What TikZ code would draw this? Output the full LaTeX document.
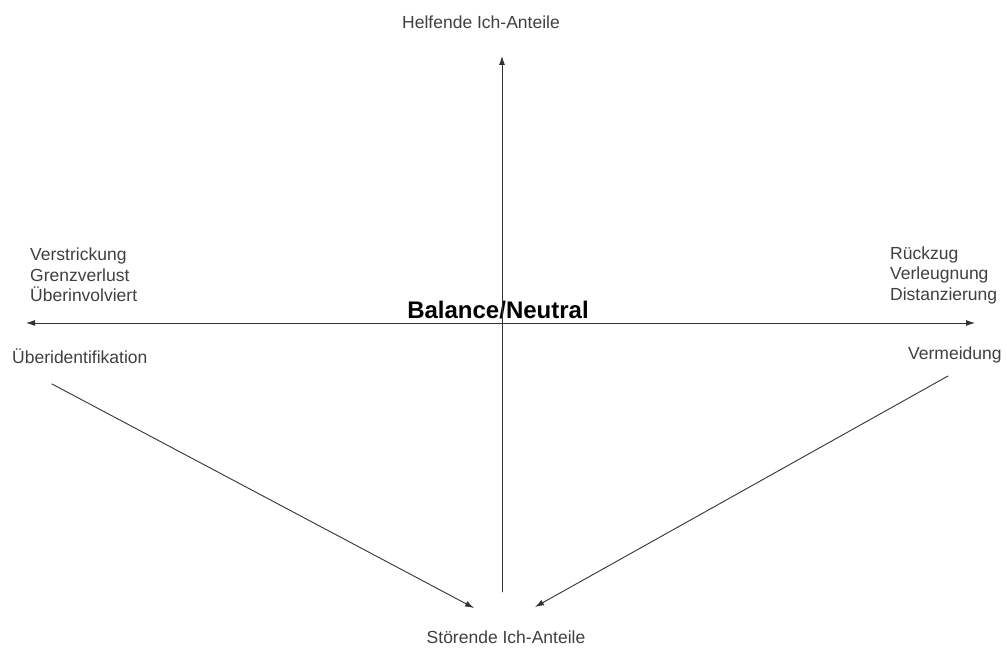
\documentclass[tikz,border=0pt]{standalone}
\usepackage{fontspec}
\setmainfont{Liberation Sans}
\usetikzlibrary{arrows.meta}

\begin{document}
\begin{tikzpicture}[x=1pt,y=1pt,line cap=round,line join=round,
  axis/.style={draw=black!80,line width=.9pt},
  tip/.style={-{Latex[length=9pt,width=6pt]}},
  lbl/.style={text=black!75,inner sep=0pt,font=\fontsize{17.5}{20.5}\selectfont},
  big/.style={inner sep=0pt,font=\bfseries\fontsize{24}{26}\selectfont}]

\useasboundingbox (0,0) rectangle (1007,652);

% Pole labels of the vertical axis.
\node[lbl] (helfend) at (481,630) {Helfende Ich-Anteile};
\node[lbl] (stoerend) at (506,15) {Störende Ich-Anteile};
\node[big] (balance) at (498,342) {Balance/Neutral};

% Both ends of the horizontal axis.
\node[lbl,anchor=west,align=left] (nah) at (30,377)
  {Verstrickung\\Grenzverlust\\Überinvolviert};
\node[lbl,anchor=west] (ueberid) at (12,296) {Überidentifikation};
\node[lbl,anchor=west,align=left] (fern) at (890,377)
  {Rückzug\\Verleugnung\\Distanzierung};
\node[lbl,anchor=west] (vermeid) at (908,297) {Vermeidung};

% Axis ends and arrow ends.
\coordinate (oben) at (502,596);
\coordinate (unten) at (502,60);
\coordinate (links) at (26,329);
\coordinate (rechts) at (975,329);
\coordinate (lstart) at (52,268);
\coordinate (lend) at (474,44);
\coordinate (rstart) at (948,276);
\coordinate (rend) at (535,45);

\draw[axis,tip] (unten) -- (oben);
\draw[axis,{Latex[length=9pt,width=6pt]}-{Latex[length=9pt,width=6pt]}]
  (links) -- (rechts);
\draw[axis,tip] (lstart) -- (lend);
\draw[axis,tip] (rstart) -- (rend);
\end{tikzpicture}
\end{document}
